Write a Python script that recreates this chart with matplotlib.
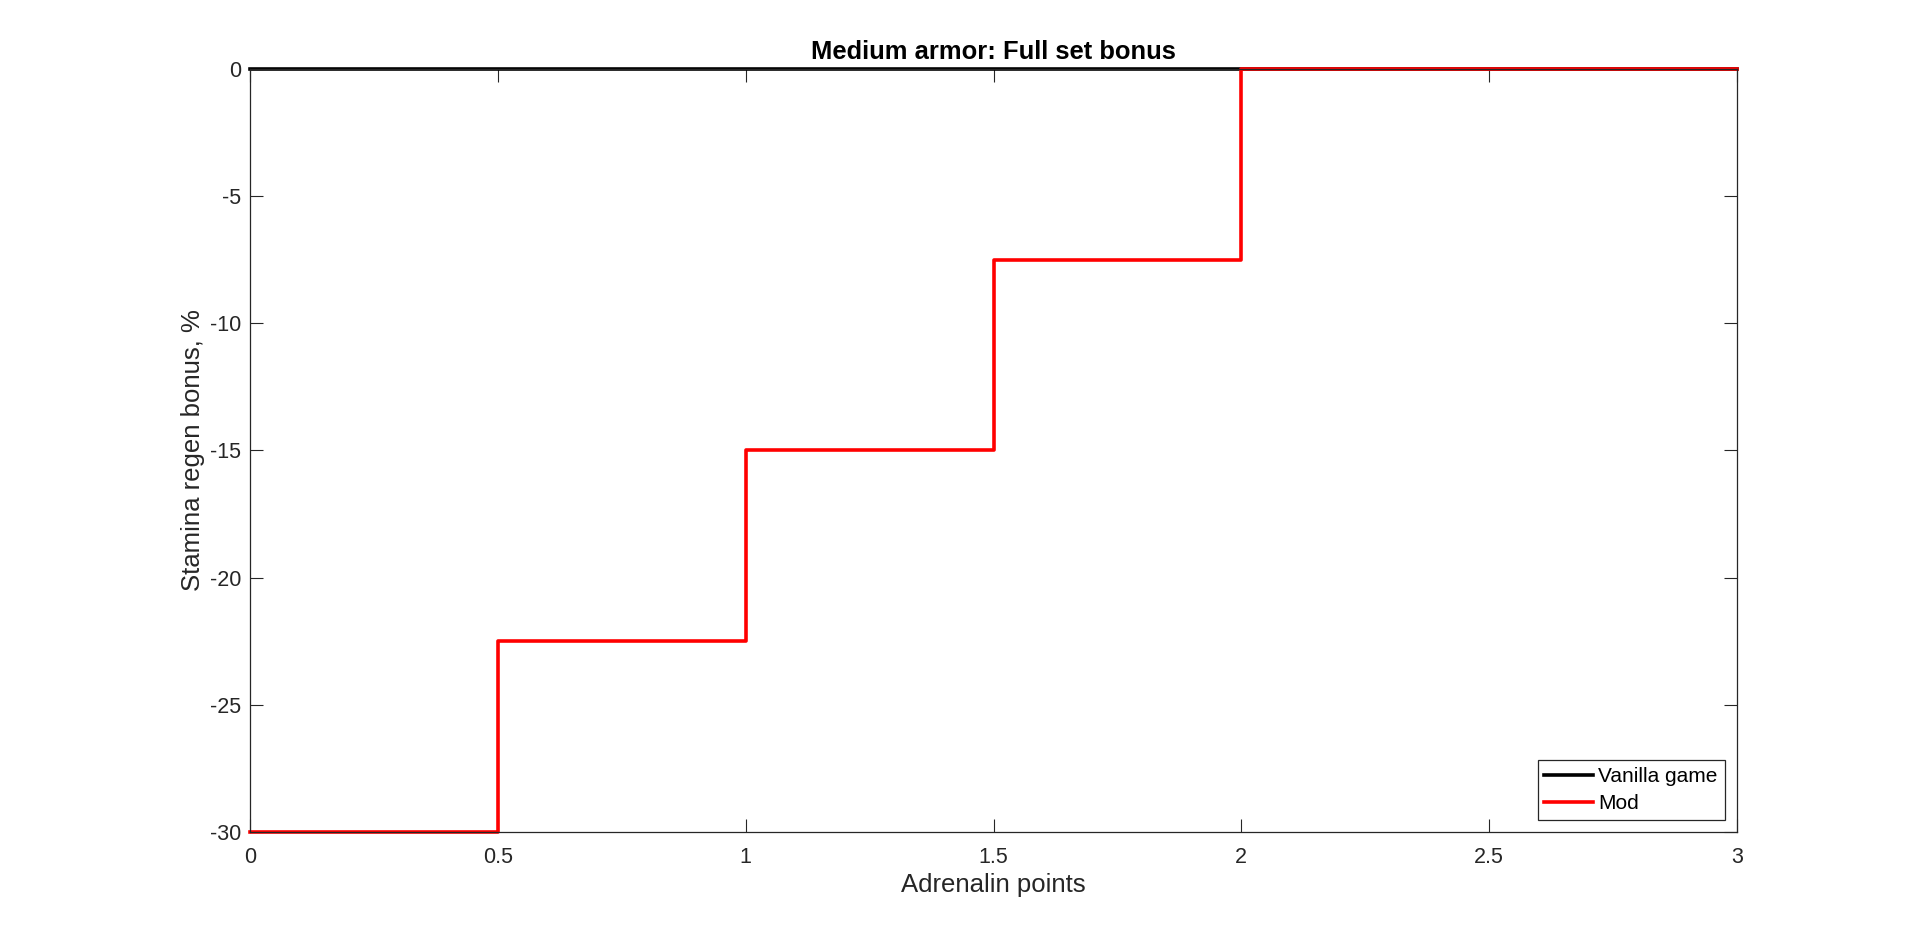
import matplotlib
matplotlib.use("Agg")
import matplotlib.pyplot as plt

plt.rcParams['font.family'] = ['Liberation Sans', 'DejaVu Sans']
plt.rcParams['axes.unicode_minus'] = False

adrenalin = [0, 0.5, 1, 1.5, 2, 2.5, 3]
vanilla = [0, 0, 0, 0, 0, 0, 0]
mod = [-30, -22.5, -15, -7.5, 0, 0, 0]
xticks = [0, 0.5, 1, 1.5, 2, 2.5, 3]
yticks = [-30, -25, -20, -15, -10, -5, 0]

fig = plt.figure(figsize=(19.2, 9.36), dpi=100)
ax = fig.add_axes([0.1302, 0.1111, 0.7745, 0.8152])
ax.step(adrenalin, vanilla, where='post', color='black', lw=2.6, label='Vanilla game', clip_on=False)
ax.step(adrenalin, mod, where='post', color='#ff0000', lw=2.6, label='Mod', clip_on=False)
ax.set_xlim(0, 3)
ax.set_ylim(-30, 0)
ax.set_xticks(xticks)
ax.set_xticklabels(['0', '0.5', '1', '1.5', '2', '2.5', '3'])
ax.set_yticks(yticks)
ax.tick_params(direction='in', top=True, right=True, length=9.5, width=0.8, labelsize=15.5, colors='#262626')
ax.tick_params(axis='x', pad=10.5)
ax.tick_params(axis='y', pad=6.5)
for s in ax.spines.values():
    s.set_linewidth(0.9)
    s.set_color('#262626')
ax.set_xlabel('Adrenalin points', fontsize=18.5, color='#262626', labelpad=4)
ax.set_ylabel('Stamina regen bonus, %', fontsize=18.5, color='#262626', labelpad=3)
ax.set_title('Medium armor: Full set bonus', fontsize=18.4, fontweight='bold', pad=7.5)
leg = ax.legend(loc='lower right', fontsize=15, fancybox=False, framealpha=1,
                edgecolor='#262626', borderpad=0.32, handlelength=2.35, handletextpad=0.25,
                labelspacing=0.38, borderaxespad=0.6)
leg.get_frame().set_linewidth(0.9)
fig.savefig('out.png', dpi=100)
